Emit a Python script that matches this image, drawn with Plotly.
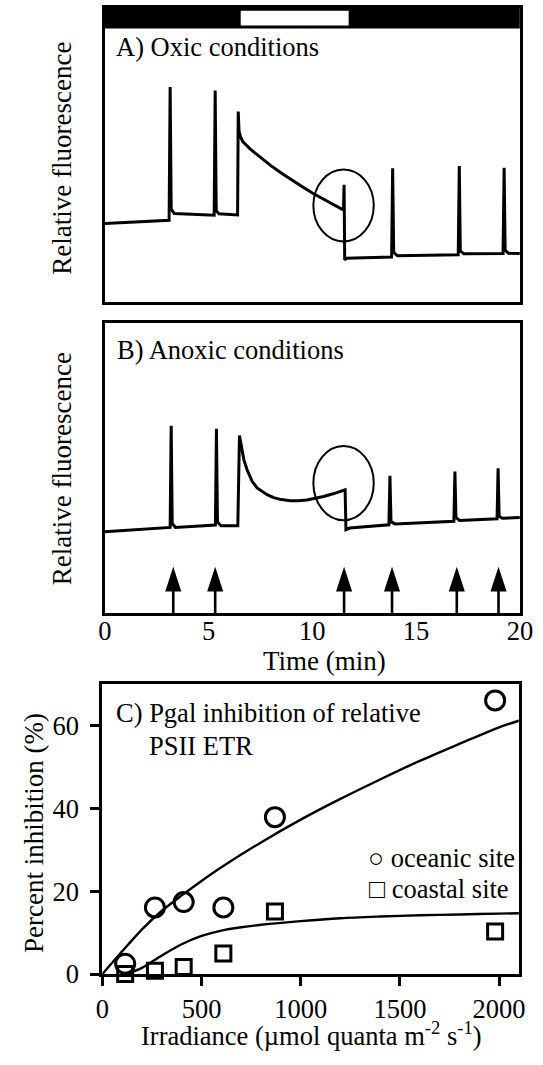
import plotly.graph_objects as go

W, H = 543, 1065
FONT = "Liberation Serif, Times New Roman, serif"
FS = 26.5
FS_TITLE = 27

# ---------------- Panel A: oxic conditions (relative fluorescence) ----------------
time_a = [0.0, 1.5, 3.10, 3.15, 3.20, 3.35, 4.5, 5.27, 5.32, 5.37, 5.5, 6.40, 6.43, 6.47,
          6.55, 6.65, 7.0, 7.5, 8.0, 8.5, 9.0, 9.5, 10.0, 10.5, 11.0, 11.50, 11.53, 11.56,
          11.65, 12.5, 13.82, 13.87, 13.92, 14.1, 16.0, 17.03, 17.08, 17.13, 17.3, 19.19,
          19.24, 19.29, 19.45, 20.0]
fluor_a = [26.6, 27.2, 27.7, 73.1, 31.5, 30.0, 29.6, 29.4, 71.9, 31.0, 29.9, 29.5, 64.7, 58.0,
           56.0, 54.5, 52.0, 49.0, 46.3, 43.8, 41.4, 39.2, 37.0, 35.0, 33.0, 31.2, 39.8, 14.2,
           14.8, 14.9, 15.2, 45.4, 16.8, 15.6, 15.8, 16.0, 46.2, 17.3, 16.3, 16.4,
           45.6, 17.5, 16.5, 16.4]

# ---------------- Panel B: anoxic conditions ----------------
time_b = [0.0, 1.5, 3.15, 3.20, 3.25, 3.4, 5.33, 5.38, 5.43, 5.6, 6.41, 6.49, 6.60, 6.70,
          6.86, 7.10, 7.34, 7.60, 7.82, 8.14, 8.50, 8.94, 9.30, 9.74, 10.14, 10.54, 11.0,
          11.58, 11.62, 11.8, 13.69, 13.74, 13.79, 14.0, 16.82, 16.87, 16.92, 17.1, 18.90,
          18.95, 19.00, 19.15, 20.0]
fluor_b = [28.1, 28.8, 29.6, 64.7, 31.0, 29.6, 30.4, 63.6, 31.5, 30.2, 30.2, 61.3, 56.5, 53.0,
           49.4, 45.5, 43.2, 41.8, 40.9, 39.9, 39.2, 38.8, 38.8, 39.1, 39.6, 40.3, 41.2,
           42.6, 28.8, 29.4, 30.5, 47.4, 31.5, 30.8, 31.7, 48.9, 33.0, 32.0, 32.6,
           50.0, 33.5, 32.8, 33.0]

# saturating pulses (arrows) and actinic light period
pulse_times = [3.30, 5.32, 11.53, 13.84, 16.96, 18.97]
light_on, light_off = 6.55, 11.75

# ---------------- Panel C: Pgal inhibition of relative PSII ETR ----------------
irradiance = [115, 265, 410, 610, 870, 1980]
oceanic = [2.5, 16.1, 17.4, 16.1, 37.9, 66.1]
coastal = [0.0, 0.8, 1.7, 5.0, 15.1, 10.3]

fit_irr_oceanic = [0, 100, 200, 300, 400, 500, 600, 800, 1000, 1200, 1400, 1600, 1800, 2000, 2100]
fit_oceanic = [0, 5.5, 10.8, 15.3, 19.0, 22.5, 25.8, 31.8, 37.3, 42.3, 47.0, 51.5, 55.6, 59.6, 61.2]
fit_irr_coastal = [120, 200, 300, 400, 500, 600, 700, 800, 1000, 1200, 1400, 1600, 1800, 2000, 2100]
fit_coastal = [0, 1.5, 4.5, 7.2, 9.2, 10.5, 11.3, 11.9, 12.8, 13.5, 13.9, 14.2, 14.4, 14.6, 14.7]


def px(x):
    return x / W


def py(y):
    return 1 - y / H


fig = go.Figure()

# fluorescence traces
fig.add_trace(go.Scatter(x=time_a, y=fluor_a, mode="lines", xaxis="x", yaxis="y",
                         line=dict(color="black", width=3), showlegend=False))
fig.add_trace(go.Scatter(x=time_b, y=fluor_b, mode="lines", xaxis="x2", yaxis="y2",
                         line=dict(color="black", width=3), showlegend=False))

# pulse arrows in panel B
ARROW_TIP, ARROW_SHAFT = 16.0, 9.0
for t in pulse_times:
    fig.add_trace(go.Scatter(x=[t, t], y=[0, ARROW_SHAFT], mode="lines", xaxis="x2", yaxis="y2",
                             line=dict(color="black", width=2.6), showlegend=False, cliponaxis=False))
fig.add_trace(go.Scatter(x=pulse_times, y=[ARROW_TIP] * len(pulse_times), mode="markers",
                         xaxis="x2", yaxis="y2", showlegend=False,
                         marker=dict(symbol="arrow", angle=0, size=26, color="black",
                                     line=dict(width=0))))

# panel C fits and points
fig.add_trace(go.Scatter(x=fit_irr_oceanic, y=fit_oceanic, mode="lines", xaxis="x3", yaxis="y3",
                         line=dict(color="black", width=2.4, shape="spline", smoothing=0.8),
                         showlegend=False))
fig.add_trace(go.Scatter(x=fit_irr_coastal, y=fit_coastal, mode="lines", xaxis="x3", yaxis="y3",
                         line=dict(color="black", width=2.4, shape="spline", smoothing=0.8),
                         showlegend=False))
fig.add_trace(go.Scatter(x=irradiance, y=oceanic, mode="markers", xaxis="x3", yaxis="y3",
                         name="oceanic site", cliponaxis=False, showlegend=False,
                         marker=dict(symbol="circle-open", size=19, color="black",
                                     line=dict(width=3, color="black"))))
fig.add_trace(go.Scatter(x=irradiance, y=coastal, mode="markers", xaxis="x3", yaxis="y3",
                         name="coastal site", cliponaxis=False, showlegend=False,
                         marker=dict(symbol="square-open", size=15, color="black",
                                     line=dict(width=3, color="black"))))

# ---------------- axes ----------------
xdom_ab = [px(101.5), px(532.5)]
xdom_c = [px(99), px(531.5)]
frame = dict(showline=True, linecolor="black", linewidth=3, mirror=True,
             showgrid=False, zeroline=False)

fig.update_layout(
    width=W, height=H, margin=dict(l=0, r=0, t=0, b=0),
    paper_bgcolor="white", plot_bgcolor="white",
    font=dict(family=FONT, size=FS, color="black"),
    xaxis=dict(domain=xdom_ab, range=[0, 20], anchor="y", showticklabels=False, ticks="", **frame),
    yaxis=dict(domain=[py(306), py(8)], range=[0, 100], anchor="x", showticklabels=False,
               ticks="", **frame),
    xaxis2=dict(domain=xdom_ab, range=[0, 20], anchor="y2", tickvals=[0, 5, 10, 15, 20],
                ticks="", tickfont=dict(size=FS), ticklabelstandoff=-8, **frame),
    yaxis2=dict(domain=[py(622), py(328)], range=[0, 100], anchor="x2", showticklabels=False,
                ticks="", **frame),
    xaxis3=dict(domain=xdom_c, range=[0, 2100], anchor="y3", tickvals=[0, 500, 1000, 1500, 2000],
                ticks="outside", ticklen=9, tickwidth=2.5, tickcolor="black",
                tickfont=dict(size=FS), **frame),
    yaxis3=dict(domain=[py(988), py(694)], range=[0, 70], anchor="x3", tickvals=[0, 20, 40, 60],
                ticks="outside", ticklen=9, tickwidth=2.5, tickcolor="black",
                tickfont=dict(size=FS), ticklabelstandoff=6, **frame),
)

# ---------------- shapes: light bar and circled regions ----------------
shapes = [
    # dark / light bar at top of panel A
    dict(type="rect", xref="x", yref="y", x0=0, x1=20, y0=93.0, y1=100,
         fillcolor="black", line=dict(width=0)),
    dict(type="rect", xref="x", yref="y", x0=light_on, x1=light_off, y0=94.0, y1=99.0,
         fillcolor="white", line=dict(width=0)),
    dict(type="circle", xref="x", yref="y", x0=10.05, x1=12.96, y0=20.5, y1=45.0,
         line=dict(color="black", width=2)),
    dict(type="circle", xref="x2", yref="y2", x0=10.05, x1=12.96, y0=32.1, y1=57.7,
         line=dict(color="black", width=2)),
]
fig.update_layout(shapes=shapes)

# ---------------- text ----------------
ann = [
    dict(text="A) Oxic conditions", x=px(111), y=py(48), xanchor="left", yanchor="middle"),
    dict(text="B) Anoxic conditions", x=px(112), y=py(355), xanchor="left", yanchor="middle"),
    dict(text="C) Pgal inhibition of relative", x=px(111), y=py(723), xanchor="left", yanchor="middle"),
    dict(text="PSII ETR", x=px(145), y=py(757), xanchor="left", yanchor="middle"),
    dict(text="Relative fluorescence", x=px(57), y=py(160), textangle=-90,
         xanchor="center", yanchor="middle", font_size=FS_TITLE),
    dict(text="Relative fluorescence", x=px(57), y=py(475), textangle=-90,
         xanchor="center", yanchor="middle", font_size=FS_TITLE),
    dict(text="Percent inhibition (%)", x=px(28), y=py(845), textangle=-90,
         xanchor="center", yanchor="middle", font_size=FS_TITLE),
    dict(text="Time (min)", x=px(330), y=py(670), xanchor="center", yanchor="middle",
         font_size=FS_TITLE),
    dict(text="Irradiance (µmol quanta m<sup>-2</sup> s<sup>-1</sup>)", x=px(316), y=py(1049),
         xanchor="center", yanchor="middle"),
    dict(text="○ oceanic site", x=px(530), y=py(870), xanchor="right", yanchor="middle"),
    dict(text="□ coastal site", x=px(523), y=py(902), xanchor="right", yanchor="middle"),
]
for a in ann:
    size = a.pop("font_size", FS)
    a.update(xref="paper", yref="paper", showarrow=False,
             font=dict(family=FONT, size=size, color="black"))
fig.update_layout(annotations=ann)

fig.write_html("out.html")
